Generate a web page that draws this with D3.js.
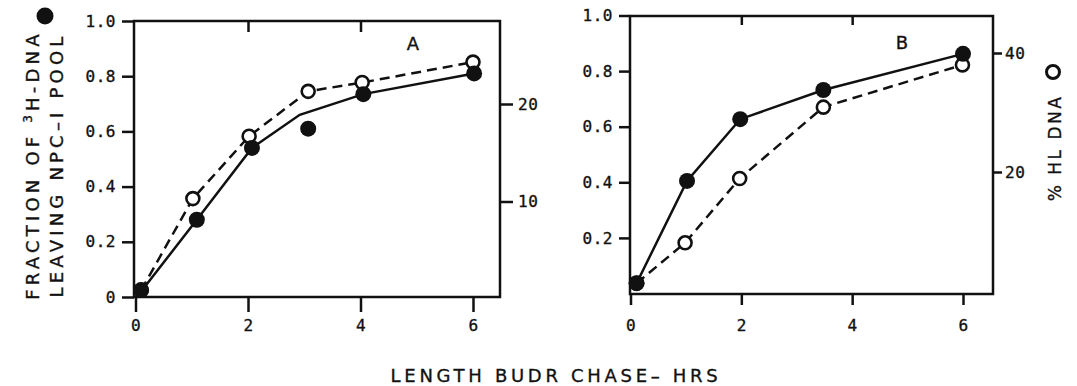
<!DOCTYPE html>
<html>
<head>
<meta charset="utf-8">
<script src="https://cdnjs.cloudflare.com/ajax/libs/d3/7.8.5/d3.min.js"></script>
<style>
	body { margin: 0; background: #fff; }
	svg text { font-family: "DejaVu Sans", sans-serif; fill: #111; stroke: #111; stroke-width: 0.35; }
	.tick text { font-family: "DejaVu Sans Mono", monospace; font-size: 16px; letter-spacing: 0.5px; }
	.tick line { stroke: #111; stroke-width: 2.5; }
	.domain { display: none; }
</style>
</head>
<body>
<svg id="chart" width="1077" height="386"></svg>
<script>
// panel A: fraction of 3H-DNA leaving pool (filled) and % HL DNA (open)
var hoursA = [0.1, 1.09, 2.07, 3.07, 4.05, 6.02];
var fractionA = [0.025, 0.28, 0.54, 0.61, 0.735, 0.81];
var curveHoursA = [0.1, 1.09, 2.07, 2.92, 4.05, 6.02];
var curveFractionA = [0.02, 0.28, 0.54, 0.66, 0.735, 0.81];
var hlHoursA = [0.1, 1.02, 2.02, 3.07, 4.03, 6.0];
var hlPercentA = [0.9, 10.3, 16.7, 21.3, 22.2, 24.3];

// panel B
var hoursB = [0.11, 1.02, 1.98, 3.48, 6.0];
var fractionB = [0.037, 0.405, 0.627, 0.732, 0.862];
var hlHoursB = [0.11, 0.985, 1.97, 3.48, 5.99];
var hlPercentB = [1.3, 8.1, 18.9, 30.9, 38.0];

// ticks
var hourTicks = [0, 2, 4, 6];
var innerHourTicks = [2, 4];
var fractionTicksA = [0, 0.2, 0.4, 0.6, 0.8, 1.0];
var fractionTicksB = [0.2, 0.4, 0.6, 0.8, 1.0];
var percentTicksA = [10, 20];
var percentTicksB = [20, 40];

var svg = d3.select("#chart");
var ink = "#111";

function zip(xs, ys) {
	return xs.map(function (d, i) { return [d, ys[i]]; });
}

function fracFormat(d) {
	return d === 0 ? "0" : d3.format(".1f")(d);
}

function buildPanel(p) {
	var g = svg.append("g").attr("class", "panel");

	var x = d3.scaleLinear().domain([0, 6]).range(p.xRange);
	var yl = d3.scaleLinear().domain([0, 1]).range(p.leftRange);
	var yr = d3.scaleLinear().domain(p.rightDomain).range(p.rightRange);

	// frame
	g.append("rect")
		.attr("x", p.box[0])
		.attr("y", p.box[1])
		.attr("width", p.box[2] - p.box[0])
		.attr("height", p.box[3] - p.box[1])
		.attr("fill", "none")
		.attr("stroke", ink)
		.attr("stroke-width", 2.5);

	g.append("g")
		.attr("transform", "translate(" + p.box[0] + ",0)")
		.call(d3.axisLeft(yl).tickValues(p.leftTicks).tickSize(p.leftTick).tickPadding(6).tickFormat(fracFormat))
		.selectAll("text").attr("fill", ink);

	g.append("g")
		.attr("transform", "translate(0," + p.box[3] + ")")
		.call(d3.axisBottom(x).tickValues(hourTicks).tickSize(p.bottomTick).tickPadding(p.bottomPad).tickFormat(d3.format("d")))
		.selectAll("text").attr("fill", ink);

	g.append("g")
		.attr("transform", "translate(0," + p.box[1] + ")")
		.call(d3.axisTop(x).tickValues(innerHourTicks).tickSize(-p.topTick).tickFormat(""));

	g.append("g")
		.attr("transform", "translate(" + p.box[2] + ",0)")
		.call(d3.axisRight(yr).tickValues(p.rightTicks).tickSize(p.rightTick).tickPadding(p.rightPad).tickFormat(d3.format("d")))
		.selectAll("text").attr("fill", ink);

	var lineL = d3.line()
		.x(function (d) { return x(d[0]); })
		.y(function (d) { return yl(d[1]); });
	var lineR = d3.line()
		.x(function (d) { return x(d[0]); })
		.y(function (d) { return yr(d[1]); });

	g.append("path")
		.datum(zip(p.hlHours, p.hlPercent))
		.attr("d", lineR)
		.attr("fill", "none")
		.attr("stroke", ink)
		.attr("stroke-width", 2.5)
		.attr("stroke-dasharray", "10,6");

	g.append("path")
		.datum(zip(p.curveHours, p.curveFraction))
		.attr("d", lineL)
		.attr("fill", "none")
		.attr("stroke", ink)
		.attr("stroke-width", 2.5);

	g.selectAll("circle.open")
		.data(zip(p.hlHours, p.hlPercent))
		.enter()
	  .append("circle")
		.attr("class", "open")
		.attr("cx", function (d) { return x(d[0]); })
		.attr("cy", function (d) { return yr(d[1]); })
		.attr("r", 6.5)
		.attr("fill", "#fff")
		.attr("stroke", ink)
		.attr("stroke-width", 2.6);

	g.selectAll("circle.filled")
		.data(zip(p.hours, p.fraction))
		.enter()
	  .append("circle")
		.attr("class", "filled")
		.attr("cx", function (d) { return x(d[0]); })
		.attr("cy", function (d) { return yl(d[1]); })
		.attr("r", 8)
		.attr("fill", ink);

	g.append("text")
		.attr("x", p.letter[0])
		.attr("y", p.letter[1])
		.attr("text-anchor", "middle")
		.style("font-size", "18px")
		.text(p.name);
}

buildPanel({
	name: "A",
	box: [134, 21, 500, 297],
	xRange: [135.5, 473],
	leftRange: [297, 21],
	rightDomain: [0, 20],
	rightRange: [299, 104],
	leftTicks: fractionTicksA,
	rightTicks: percentTicksA,
	leftTick: 12, bottomTick: 15, bottomPad: 8, topTick: 11, rightTick: 13, rightPad: 5,
	hours: hoursA, fraction: fractionA,
	curveHours: curveHoursA, curveFraction: curveFractionA,
	hlHours: hlHoursA, hlPercent: hlPercentA,
	letter: [413, 50]
});

buildPanel({
	name: "B",
	box: [630, 16, 993, 294],
	xRange: [630.5, 963],
	leftRange: [293.5, 15.5],
	rightDomain: [0, 40],
	rightRange: [291, 53],
	leftTicks: fractionTicksB,
	rightTicks: percentTicksB,
	leftTick: 11, bottomTick: 11, bottomPad: 15, topTick: 9, rightTick: 9, rightPad: 3,
	hours: hoursB, fraction: fractionB,
	curveHours: hoursB, curveFraction: fractionB,
	hlHours: hlHoursB, hlPercent: hlPercentB,
	letter: [902, 49]
});

// left axis title, two rotated lines with filled symbol
var leftTitle = svg.append("g").style("font-size", "18px").style("letter-spacing", "4.2px");

var line1 = leftTitle.append("text")
	.attr("transform", "translate(39,165) rotate(-90)")
	.attr("text-anchor", "middle");
line1.append("tspan").text("FRACTION OF ");
line1.append("tspan").attr("baseline-shift", "super").style("font-size", "12px").text("3");
line1.append("tspan").text("H-DNA");

leftTitle.append("text")
	.attr("transform", "translate(63,165) rotate(-90)")
	.attr("text-anchor", "middle")
	.text("LEAVING NPC\u2013I  POOL");

svg.append("circle")
	.attr("cx", 45)
	.attr("cy", 16)
	.attr("r", 8.5)
	.attr("fill", ink);

// right axis title with open symbol
svg.append("text")
	.attr("transform", "translate(1061,148) rotate(-90)")
	.attr("text-anchor", "middle")
	.style("font-size", "17px")
	.style("letter-spacing", "2.5px")
	.text("% HL DNA");

svg.append("circle")
	.attr("cx", 1053)
	.attr("cy", 72)
	.attr("r", 6.5)
	.attr("fill", "#fff")
	.attr("stroke", ink)
	.attr("stroke-width", 3);

// x axis title
svg.append("text")
	.attr("x", 556)
	.attr("y", 382)
	.attr("text-anchor", "middle")
	.style("font-size", "18px")
	.style("letter-spacing", "3.7px")
	.text("LENGTH BUDR CHASE\u2013 HRS");
</script>
</body>
</html>
